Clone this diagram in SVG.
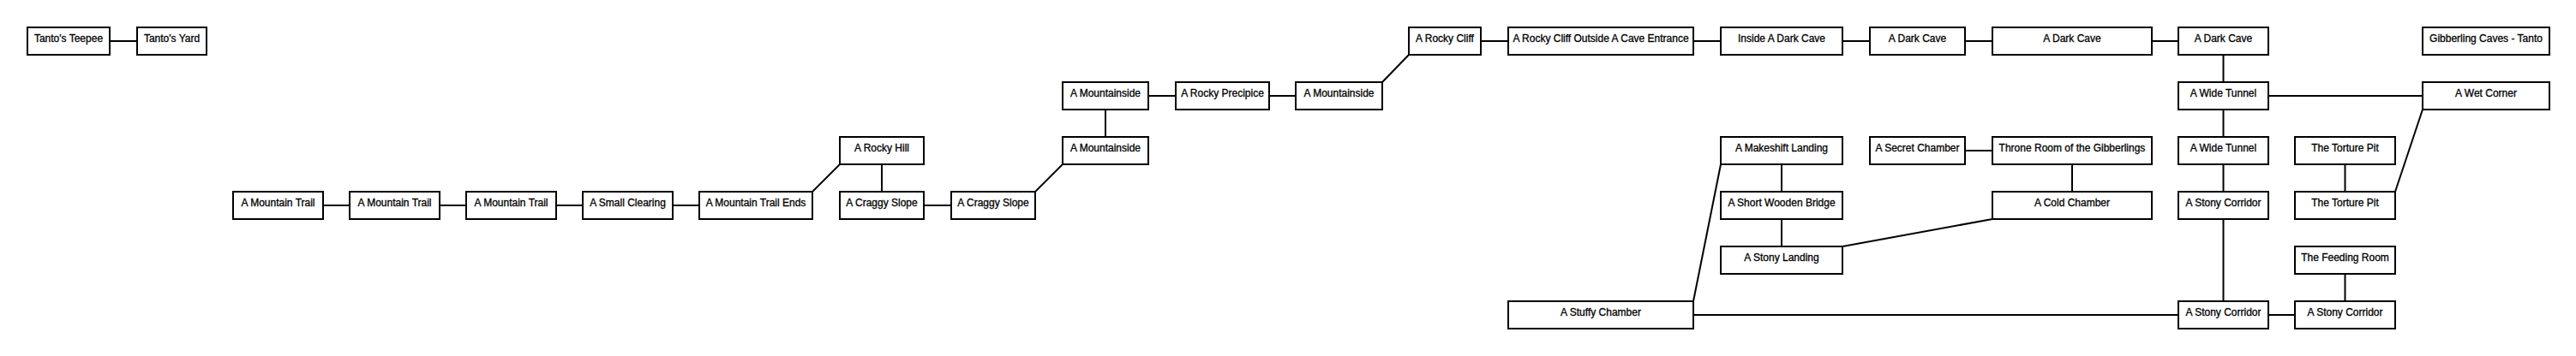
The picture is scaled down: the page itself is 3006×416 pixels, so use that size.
<svg xmlns="http://www.w3.org/2000/svg" width="3006" height="416" viewBox="0 0 3006 416">
<style>
.n rect{fill:#fff;stroke:#000;stroke-width:2}
.n text{font-family:"Liberation Sans",Arial,sans-serif;font-size:12px;fill:#000;stroke:#000;stroke-width:0.3;text-anchor:middle}
#connectors line{stroke:#000;stroke-width:2}
</style>
<rect x="0" y="0" width="3006" height="416" fill="#fff"/>
<g id="connectors">
<line x1="128" y1="48" x2="160" y2="48"/>
<line x1="377" y1="240" x2="408" y2="240"/>
<line x1="513" y1="240" x2="544" y2="240"/>
<line x1="649" y1="240" x2="680" y2="240"/>
<line x1="785" y1="240" x2="816" y2="240"/>
<line x1="948" y1="224" x2="980" y2="192"/>
<line x1="1029" y1="192" x2="1029" y2="224"/>
<line x1="1078" y1="240" x2="1110" y2="240"/>
<line x1="1208" y1="224" x2="1240" y2="192"/>
<line x1="1290" y1="160" x2="1290" y2="128"/>
<line x1="1340" y1="112" x2="1372" y2="112"/>
<line x1="1481" y1="112" x2="1512" y2="112"/>
<line x1="1613" y1="96" x2="1644" y2="64"/>
<line x1="1728" y1="48" x2="1760" y2="48"/>
<line x1="1976" y1="48" x2="2008" y2="48"/>
<line x1="2150" y1="48" x2="2182" y2="48"/>
<line x1="2293" y1="48" x2="2325" y2="48"/>
<line x1="2511" y1="48" x2="2542" y2="48"/>
<line x1="2594.5" y1="64" x2="2594.5" y2="96"/>
<line x1="2647" y1="112" x2="2827" y2="112"/>
<line x1="2594.5" y1="128" x2="2594.5" y2="160"/>
<line x1="2594.5" y1="192" x2="2594.5" y2="224"/>
<line x1="2594.5" y1="256" x2="2594.5" y2="352"/>
<line x1="2647" y1="368" x2="2678" y2="368"/>
<line x1="2736.5" y1="320" x2="2736.5" y2="352"/>
<line x1="2736.5" y1="192" x2="2736.5" y2="224"/>
<line x1="2795" y1="224" x2="2827" y2="128"/>
<line x1="1976" y1="368" x2="2542" y2="368"/>
<line x1="1976" y1="352" x2="2008" y2="192"/>
<line x1="2079" y1="192" x2="2079" y2="224"/>
<line x1="2079" y1="256" x2="2079" y2="288"/>
<line x1="2150" y1="288" x2="2325" y2="256"/>
<line x1="2293" y1="176" x2="2325" y2="176"/>
<line x1="2418" y1="192" x2="2418" y2="224"/>
</g>
<g id="tanto-teepee" class="n"><rect x="32" y="32" width="96" height="32"/><text x="80" y="48.5">Tanto's Teepee</text></g>
<g id="tanto-yard" class="n"><rect x="160" y="32" width="81" height="32"/><text x="200.5" y="48.5">Tanto's Yard</text></g>
<g id="rocky-cliff" class="n"><rect x="1644" y="32" width="84" height="32"/><text x="1686" y="48.5">A Rocky Cliff</text></g>
<g id="cliff-outside" class="n"><rect x="1760" y="32" width="216" height="32"/><text x="1868" y="48.5">A Rocky Cliff Outside A Cave Entrance</text></g>
<g id="inside-dark-cave" class="n"><rect x="2008" y="32" width="142" height="32"/><text x="2079" y="48.5">Inside A Dark Cave</text></g>
<g id="dark-cave-1" class="n"><rect x="2182" y="32" width="111" height="32"/><text x="2237.5" y="48.5">A Dark Cave</text></g>
<g id="dark-cave-2" class="n"><rect x="2325" y="32" width="186" height="32"/><text x="2418" y="48.5">A Dark Cave</text></g>
<g id="dark-cave-3" class="n"><rect x="2542" y="32" width="105" height="32"/><text x="2594.5" y="48.5">A Dark Cave</text></g>
<g id="gibberling-caves" class="n"><rect x="2827" y="32" width="148" height="32"/><text x="2901" y="48.5">Gibberling Caves - Tanto</text></g>
<g id="mountainside-up" class="n"><rect x="1240" y="96" width="100" height="32"/><text x="1290" y="112.5">A Mountainside</text></g>
<g id="rocky-precipice" class="n"><rect x="1372" y="96" width="109" height="32"/><text x="1426.5" y="112.5">A Rocky Precipice</text></g>
<g id="mountainside-3" class="n"><rect x="1512" y="96" width="101" height="32"/><text x="1562.5" y="112.5">A Mountainside</text></g>
<g id="wide-tunnel-1" class="n"><rect x="2542" y="96" width="105" height="32"/><text x="2594.5" y="112.5">A Wide Tunnel</text></g>
<g id="wet-corner" class="n"><rect x="2827" y="96" width="148" height="32"/><text x="2901" y="112.5">A Wet Corner</text></g>
<g id="rocky-hill" class="n"><rect x="980" y="160" width="98" height="32"/><text x="1029" y="176.5">A Rocky Hill</text></g>
<g id="mountainside-low" class="n"><rect x="1240" y="160" width="100" height="32"/><text x="1290" y="176.5">A Mountainside</text></g>
<g id="makeshift-landing" class="n"><rect x="2008" y="160" width="142" height="32"/><text x="2079" y="176.5">A Makeshift Landing</text></g>
<g id="secret-chamber" class="n"><rect x="2182" y="160" width="111" height="32"/><text x="2237.5" y="176.5">A Secret Chamber</text></g>
<g id="throne-room" class="n"><rect x="2325" y="160" width="186" height="32"/><text x="2418" y="176.5">Throne Room of the Gibberlings</text></g>
<g id="wide-tunnel-2" class="n"><rect x="2542" y="160" width="105" height="32"/><text x="2594.5" y="176.5">A Wide Tunnel</text></g>
<g id="torture-pit-1" class="n"><rect x="2678" y="160" width="117" height="32"/><text x="2736.5" y="176.5">The Torture Pit</text></g>
<g id="trail-1" class="n"><rect x="272" y="224" width="105" height="32"/><text x="324.5" y="240.5">A Mountain Trail</text></g>
<g id="trail-2" class="n"><rect x="408" y="224" width="105" height="32"/><text x="460.5" y="240.5">A Mountain Trail</text></g>
<g id="trail-3" class="n"><rect x="544" y="224" width="105" height="32"/><text x="596.5" y="240.5">A Mountain Trail</text></g>
<g id="small-clearing" class="n"><rect x="680" y="224" width="105" height="32"/><text x="732.5" y="240.5">A Small Clearing</text></g>
<g id="trail-ends" class="n"><rect x="816" y="224" width="132" height="32"/><text x="882" y="240.5">A Mountain Trail Ends</text></g>
<g id="craggy-slope-1" class="n"><rect x="980" y="224" width="98" height="32"/><text x="1029" y="240.5">A Craggy Slope</text></g>
<g id="craggy-slope-2" class="n"><rect x="1110" y="224" width="98" height="32"/><text x="1159" y="240.5">A Craggy Slope</text></g>
<g id="wooden-bridge" class="n"><rect x="2008" y="224" width="142" height="32"/><text x="2079" y="240.5">A Short Wooden Bridge</text></g>
<g id="cold-chamber" class="n"><rect x="2325" y="224" width="186" height="32"/><text x="2418" y="240.5">A Cold Chamber</text></g>
<g id="stony-corridor-1" class="n"><rect x="2542" y="224" width="105" height="32"/><text x="2594.5" y="240.5">A Stony Corridor</text></g>
<g id="torture-pit-2" class="n"><rect x="2678" y="224" width="117" height="32"/><text x="2736.5" y="240.5">The Torture Pit</text></g>
<g id="stony-landing" class="n"><rect x="2008" y="288" width="142" height="32"/><text x="2079" y="304.5">A Stony Landing</text></g>
<g id="feeding-room" class="n"><rect x="2678" y="288" width="117" height="32"/><text x="2736.5" y="304.5">The Feeding Room</text></g>
<g id="stuffy-chamber" class="n"><rect x="1760" y="352" width="216" height="32"/><text x="1868" y="368.5">A Stuffy Chamber</text></g>
<g id="stony-corridor-2" class="n"><rect x="2542" y="352" width="105" height="32"/><text x="2594.5" y="368.5">A Stony Corridor</text></g>
<g id="stony-corridor-3" class="n"><rect x="2678" y="352" width="117" height="32"/><text x="2736.5" y="368.5">A Stony Corridor</text></g>
</svg>
